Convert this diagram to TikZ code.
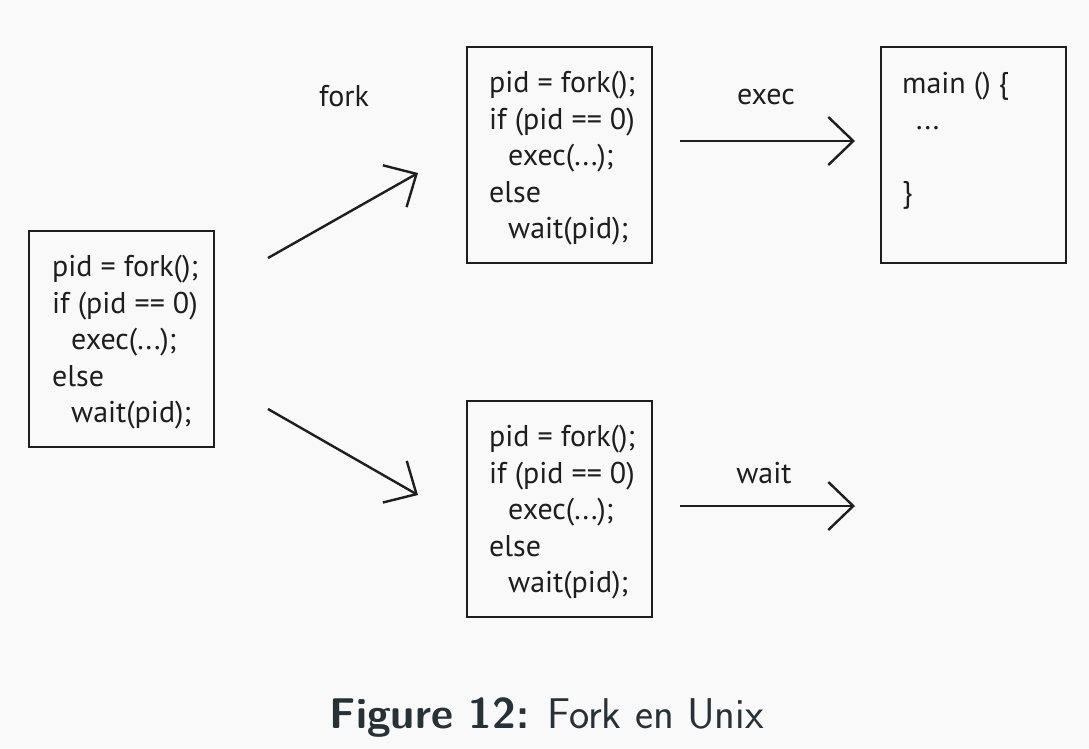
\documentclass[tikz,border=0pt]{standalone}
\usepackage{fontspec}
\newfontfamily\boxfont{PT Sans}
\usetikzlibrary{arrows.meta}
\definecolor{bg}{HTML}{F9F9F9}
\definecolor{capc}{HTML}{263238}
\definecolor{ink}{HTML}{1E1E1E}
\begin{document}
\begin{tikzpicture}[x=1pt,y=-1pt,
  codebox/.style={draw=ink, line width=2.4pt, minimum width=185pt, minimum height=216pt,
    inner sep=0pt, anchor=north west},
  codetxt/.style={inner sep=0pt, align=left, anchor=west, text=ink,
    font=\boxfont\fontsize{30}{36.5}\selectfont},
  lbl/.style={text=ink, font=\boxfont\fontsize{30}{36.5}\selectfont},
  arr/.style={draw=ink, line width=2.4pt, -{Straight Barb[length=25pt,width=48pt]}}]
\fill[bg] (0,0) rectangle (1089,748);
\useasboundingbox (0,0) rectangle (1089,748);

\newcommand{\ind}{\hspace*{19pt}}
\newcommand{\codetext}{pid = fork();\\ if (pid == 0)\\ \ind exec(...);\\ else\\ \ind wait(pid);}

\node[codebox] (parent) at (28,230) {};
\node[codebox] (childA) at (466,46) {};
\node[codebox] (childB) at (466,400) {};
\node[codebox] (mainbox) at (880,46) {};

\node[codetxt] (parentT) at ([xshift=24pt,yshift=-3pt]parent.west) {\codetext};
\node[codetxt] (childAT) at ([xshift=23pt,yshift=-3pt]childA.west) {\codetext};
\node[codetxt] (childBT) at ([xshift=23pt,yshift=-3pt]childB.west) {\codetext};
\node[codetxt] (mainT) at ([xshift=22pt,yshift=-6pt]mainbox.west) {main () \{\\ \hspace*{14pt}...\\ \strut\\ \}\\ \strut};

\coordinate (f1s) at (268,258);
\coordinate (f1e) at (418,173);
\coordinate (f2s) at (268,409);
\coordinate (f2e) at (418,495);
\coordinate (exs) at (680,141);
\coordinate (exe) at (855,141);
\coordinate (wts) at (680,506);
\coordinate (wte) at (855,506);

\draw[arr] (f1s) -- (f1e);
\draw[arr] (f2s) -- (f2e);
\draw[arr] (exs) -- (exe);
\draw[arr] (wts) -- (wte);

\node[lbl] (lfork) at (344,96) {fork};
\node[lbl] (lexec) at (766,97) {exec};
\node[lbl] (lwait) at (764,473) {wait};

\node[text=capc, font=\sffamily\fontsize{43}{50}\selectfont] (cap) at (547,718) {\textbf{Figure 12:} Fork en Unix};
\end{tikzpicture}
\end{document}
